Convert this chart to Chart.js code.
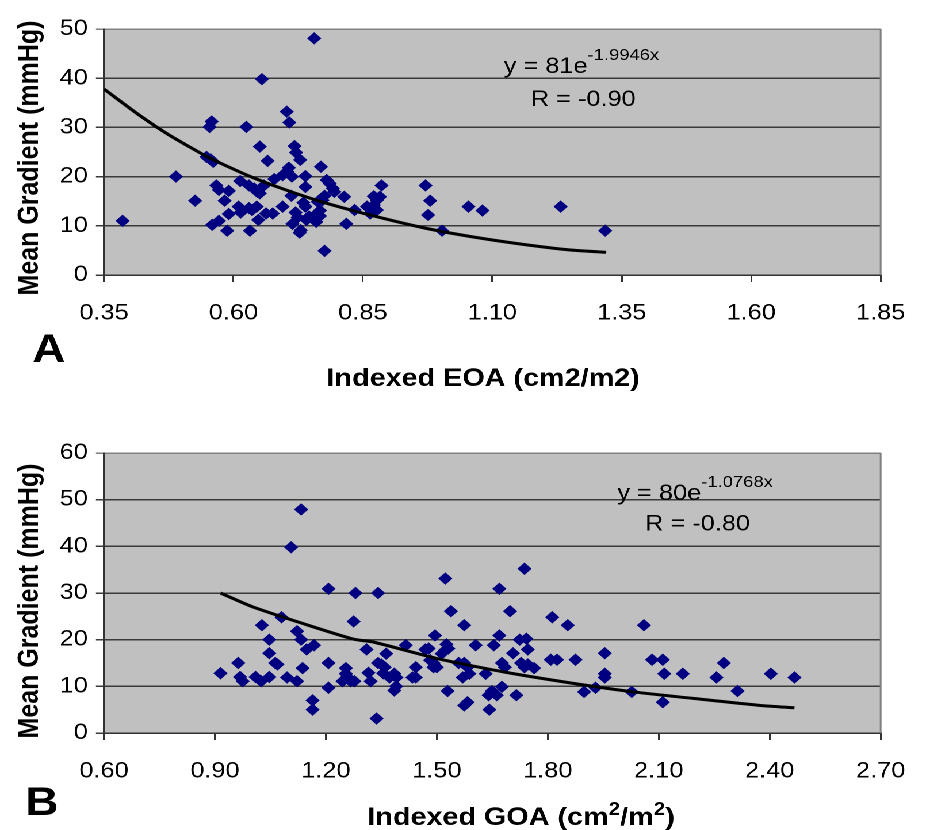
<!DOCTYPE html>
<html>
<head>
<meta charset="utf-8">
<script src="https://cdn.jsdelivr.net/npm/chart.js@4"></script>
<style>
  body { margin: 0; background: #fff; }
  /* the reference is stretched sideways, so the whole drawing is too */
  #wrap { position: relative; width: 805px; height: 830px; transform: scaleX(1.1503); transform-origin: 0 0; }
  canvas { position: absolute; left: 0; }
</style>
</head>
<body>
<div id="wrap">
  <canvas id="chartA" width="805" height="400" style="top:0"></canvas>
  <canvas id="chartB" width="805" height="430" style="top:400px"></canvas>
</div>
<script>
// Panel A: indexed EOA vs mean gradient
const eoaPoints = [
  [0.386,11.0],[0.489,20.0],[0.526,15.1],[0.554,30.1],[0.558,31.2],[0.548,24.0],[0.556,23.5],[0.561,23.0],
  [0.567,18.2],[0.572,17.3],[0.591,17.1],[0.583,15.1],[0.559,10.2],[0.572,11.0],[0.588,9.0],[0.591,12.4],
  [0.613,19.1],[0.610,13.9],[0.614,12.7],[0.625,30.1],[0.632,9.0],[0.630,18.2],[0.640,17.6],[0.646,16.9],
  [0.630,13.6],[0.636,13.2],[0.645,13.9],[0.648,11.2],[0.651,26.1],[0.655,39.8],[0.651,16.6],[0.659,18.2],
  [0.666,23.2],[0.663,12.5],[0.676,12.5],[0.679,19.5],[0.695,13.9],[0.695,20.3],[0.704,21.0],[0.713,20.0],
  [0.707,21.8],[0.703,33.2],[0.708,31.0],[0.718,26.2],[0.721,24.9],[0.729,23.4],[0.712,16.1],[0.714,10.4],
  [0.720,12.7],[0.724,11.7],[0.728,8.6],[0.730,9.1],[0.739,20.1],[0.739,17.9],[0.735,14.7],[0.739,13.9],
  [0.741,11.2],[0.746,11.9],[0.756,48.1],[0.763,14.9],[0.760,12.4],[0.767,13.1],[0.760,10.8],[0.769,22.0],
  [0.767,12.0],[0.776,4.9],[0.780,19.3],[0.786,18.6],[0.792,17.6],[0.795,16.9],[0.776,16.1],[0.772,15.2],
  [0.814,15.9],[0.818,10.4],[0.834,13.2],[0.858,13.9],[0.864,12.5],[0.871,14.2],[0.877,13.2],[0.877,15.2],
  [0.883,15.9],[0.886,18.2],[0.871,16.0],[0.971,18.2],[0.980,15.1],[0.976,12.2],[1.003,9.0],[1.054,13.9],
  [1.081,13.1],[1.232,13.9],[1.318,9.0]
];
// exponential trend line as drawn
const eoaTrend = [
  [0.35,37.8],[0.418,32.5],[0.475,28.5],[0.55,24.0],[0.626,20.3],[0.701,17.3],[0.776,14.7],
  [0.871,12.0],[0.971,9.5],[1.059,7.8],[1.154,6.3],[1.248,5.1],[1.32,4.6]
];
const eoaTicks = [0.35, 0.60, 0.85, 1.10, 1.35, 1.60, 1.85];
const gradTicksA = [0, 10, 20, 30, 40, 50];

// Panel B: indexed GOA vs mean gradient
const goaPoints = [
  [0.915,12.8],[0.963,15.0],[0.968,12.0],[0.975,11.1],[1.010,12.0],[1.025,11.1],[1.027,23.1],[1.047,20.0],
  [1.047,17.1],[1.047,12.0],[1.063,15.0],[1.069,14.7],[1.080,24.8],[1.095,11.9],[1.106,39.8],[1.122,11.1],
  [1.122,21.8],[1.133,20.0],[1.133,47.9],[1.137,13.9],[1.148,17.9],[1.168,18.8],[1.164,7.0],[1.164,5.0],
  [1.207,30.9],[1.207,15.0],[1.207,9.7],[1.254,13.9],[1.254,12.7],[1.245,11.1],[1.267,11.1],[1.277,11.1],
  [1.258,12.0],[1.275,23.9],[1.280,30.0],[1.310,17.9],[1.315,12.9],[1.321,11.1],[1.337,3.1],[1.341,30.0],
  [1.341,15.0],[1.350,14.7],[1.355,12.8],[1.363,17.0],[1.359,14.1],[1.372,11.9],[1.385,12.7],[1.391,11.9],
  [1.385,9.1],[1.390,10.0],[1.416,18.8],[1.434,11.9],[1.443,11.9],[1.443,14.1],[1.469,17.9],[1.478,18.1],
  [1.482,15.6],[1.491,14.1],[1.500,14.1],[1.491,15.0],[1.495,20.9],[1.513,17.0],[1.522,17.7],[1.526,19.0],
  [1.531,18.1],[1.523,33.1],[1.529,9.0],[1.538,26.1],[1.559,15.0],[1.574,15.0],[1.583,14.1],[1.574,23.1],
  [1.570,11.9],[1.588,12.7],[1.574,5.9],[1.583,6.6],[1.605,18.8],[1.632,12.7],[1.640,8.1],[1.649,9.0],
  [1.642,5.0],[1.654,18.8],[1.669,30.9],[1.669,20.9],[1.662,8.1],[1.676,9.9],[1.676,15.0],[1.684,14.1],
  [1.698,26.1],[1.706,17.1],[1.715,8.1],[1.724,20.0],[1.742,20.2],[1.746,17.9],[1.737,35.2],[1.728,15.0],
  [1.737,14.1],[1.746,14.7],[1.763,13.9],[1.812,24.8],[1.808,15.7],[1.825,15.7],[1.854,23.1],[1.875,15.7],
  [1.898,8.8],[1.929,9.7],[1.954,17.1],[1.954,12.7],[1.954,11.9],[2.027,8.8],[2.060,23.1],[2.082,15.7],
  [2.111,15.7],[2.115,12.7],[2.111,6.6],[2.165,12.7],[2.256,11.9],[2.276,15.0],[2.313,9.0],[2.403,12.7],
  [2.467,11.9]
];
const goaTrend = [
  [0.915,30.0],[1.003,27.0],[1.144,23.3],[1.275,20.1],[1.328,19.5],[1.504,15.9],[1.68,13.1],
  [1.856,10.8],[2.032,8.8],[2.243,7.0],[2.375,5.9],[2.467,5.4]
];
const goaTicks = [0.60, 0.90, 1.20, 1.50, 1.80, 2.10, 2.40, 2.70];
const gradTicksB = [0, 10, 20, 30, 40, 50, 60];

const FONT = "'Liberation Sans', Arial, Helvetica, sans-serif";
const toXY = arr => arr.map(p => ({ x: p[0], y: p[1] }));

// grey plot background and right edge
const plotFrame = {
  id: 'plotFrame',
  beforeDraw(chart) {
    const { ctx, chartArea: a } = chart;
    ctx.save();
    ctx.fillStyle = '#c0c0c0';
    ctx.fillRect(a.left, a.top, a.right - a.left, a.bottom - a.top);
    ctx.restore();
  },
  beforeDatasetsDraw(chart) {
    const { ctx, chartArea: a } = chart;
    ctx.save();
    ctx.strokeStyle = '#808080';
    ctx.lineWidth = 1.5;
    ctx.beginPath();
    ctx.moveTo(a.right, a.top);
    ctx.lineTo(a.right, a.bottom);
    ctx.stroke();
    ctx.restore();
  }
};

// text pieces: each note is a run of [text, font, dy] parts
function notesPlugin(notes) {
  return {
    id: 'notes',
    afterDraw(chart) {
      const ctx = chart.ctx;
      ctx.save();
      ctx.fillStyle = '#000';
      ctx.textBaseline = 'alphabetic';
      ctx.textAlign = 'left';
      notes.forEach(n => {
        let total = 0;
        n.parts.forEach(p => { ctx.font = p[1] + ' ' + FONT; total += ctx.measureText(p[0]).width; });
        ctx.save();
        ctx.translate(n.x, n.y);
        if (n.rotate) ctx.rotate(n.rotate);
        let x = n.center ? -total / 2 : 0;
        n.parts.forEach(p => {
          ctx.font = p[1] + ' ' + FONT;
          ctx.fillText(p[0], x, p[2] || 0);
          x += ctx.measureText(p[0]).width;
        });
        ctx.restore();
      });
      ctx.restore();
    }
  };
}

function buildChart(id, cfg) {
  return new Chart(document.getElementById(id), {
    type: 'scatter',
    data: {
      datasets: [{
        type: 'line',
        data: toXY(cfg.trend),
        borderColor: '#000',
        borderWidth: 3,
        pointRadius: 0,
        tension: 0.2,
        order: 0
      }, {
        data: toXY(cfg.points),
        pointStyle: 'rectRot',
        pointRadius: 5.5,
        backgroundColor: '#000080',
        borderColor: '#000080',
        borderWidth: 1,
        order: 1
      }]
    },
    options: {
      responsive: false,
      animation: false,
      devicePixelRatio: 2,
      layout: { padding: { top: cfg.top, right: 22.4, left: 0, bottom: 0 } },
      plugins: { legend: { display: false }, tooltip: { enabled: false } },
      scales: {
        x: {
          type: 'linear',
          min: cfg.xTicks[0],
          max: cfg.xTicks[cfg.xTicks.length - 1],
          afterBuildTicks: s => { s.ticks = cfg.xTicks.map(v => ({ value: v })); },
          afterFit: s => { s.height = cfg.xHeight; },
          ticks: {
            callback: v => v.toFixed(2),
            color: '#000',
            font: { family: FONT, size: 22 },
            padding: 18,
            maxRotation: 0,
            autoSkip: false
          },
          grid: { drawOnChartArea: false, color: '#333', lineWidth: 1.5, tickLength: 7 },
          border: { color: '#333', width: 1.5 }
        },
        y: {
          min: cfg.yTicks[0],
          max: cfg.yTicks[cfg.yTicks.length - 1],
          afterBuildTicks: s => { s.ticks = cfg.yTicks.map(v => ({ value: v })); },
          afterFit: s => { s.width = 90.4; },
          ticks: { color: '#000', font: { family: FONT, size: 22 }, padding: 7 },
          grid: {
            color: c => (c.tick && c.tick.value === c.scale.max) ? '#808080' : '#3a3a3a',
            lineWidth: 1.5,
            tickLength: 7
          },
          border: { color: '#333', width: 1.5 }
        }
      }
    },
    plugins: [plotFrame, notesPlugin(cfg.notes)]
  });
}

buildChart('chartA', {
  points: eoaPoints, trend: eoaTrend, xTicks: eoaTicks, yTicks: gradTicksA,
  top: 29, xHeight: 125,
  notes: [
    { x: 420, y: 386, center: true, parts: [['Indexed EOA (cm2/m2)', 'bold 25px']] },
    { x: 33, y: 158, center: true, rotate: -Math.PI / 2, parts: [['Mean Gradient (mmHg)', 'bold 25px']] },
    { x: 28, y: 362, parts: [['A', 'bold 40px']] },
    { x: 438, y: 73, parts: [['y = 81e', '22px'], ['-1.9946x', '16px', -13]] },
    { x: 461.5, y: 106, parts: [['R = -0.90', '22px']] }
  ]
});

buildChart('chartB', {
  points: goaPoints, trend: goaTrend, xTicks: goaTicks, yTicks: gradTicksB,
  top: 53, xHeight: 97,
  notes: [
    { x: 453, y: 425, center: true, parts: [['Indexed GOA (cm', 'bold 25px'], ['2', 'bold 18px', -10], ['/m', 'bold 25px'], ['2', 'bold 18px', -10], [')', 'bold 25px']] },
    { x: 33, y: 201, center: true, rotate: -Math.PI / 2, parts: [['Mean Gradient (mmHg)', 'bold 25px']] },
    { x: 22, y: 415, parts: [['B', 'bold 40px']] },
    { x: 536.8, y: 100, parts: [['y = 80e', '22px'], ['-1.0768x', '16px', -13]] },
    { x: 560.9, y: 130.7, parts: [['R = -0.80', '22px']] }
  ]
});
</script>
</body>
</html>
